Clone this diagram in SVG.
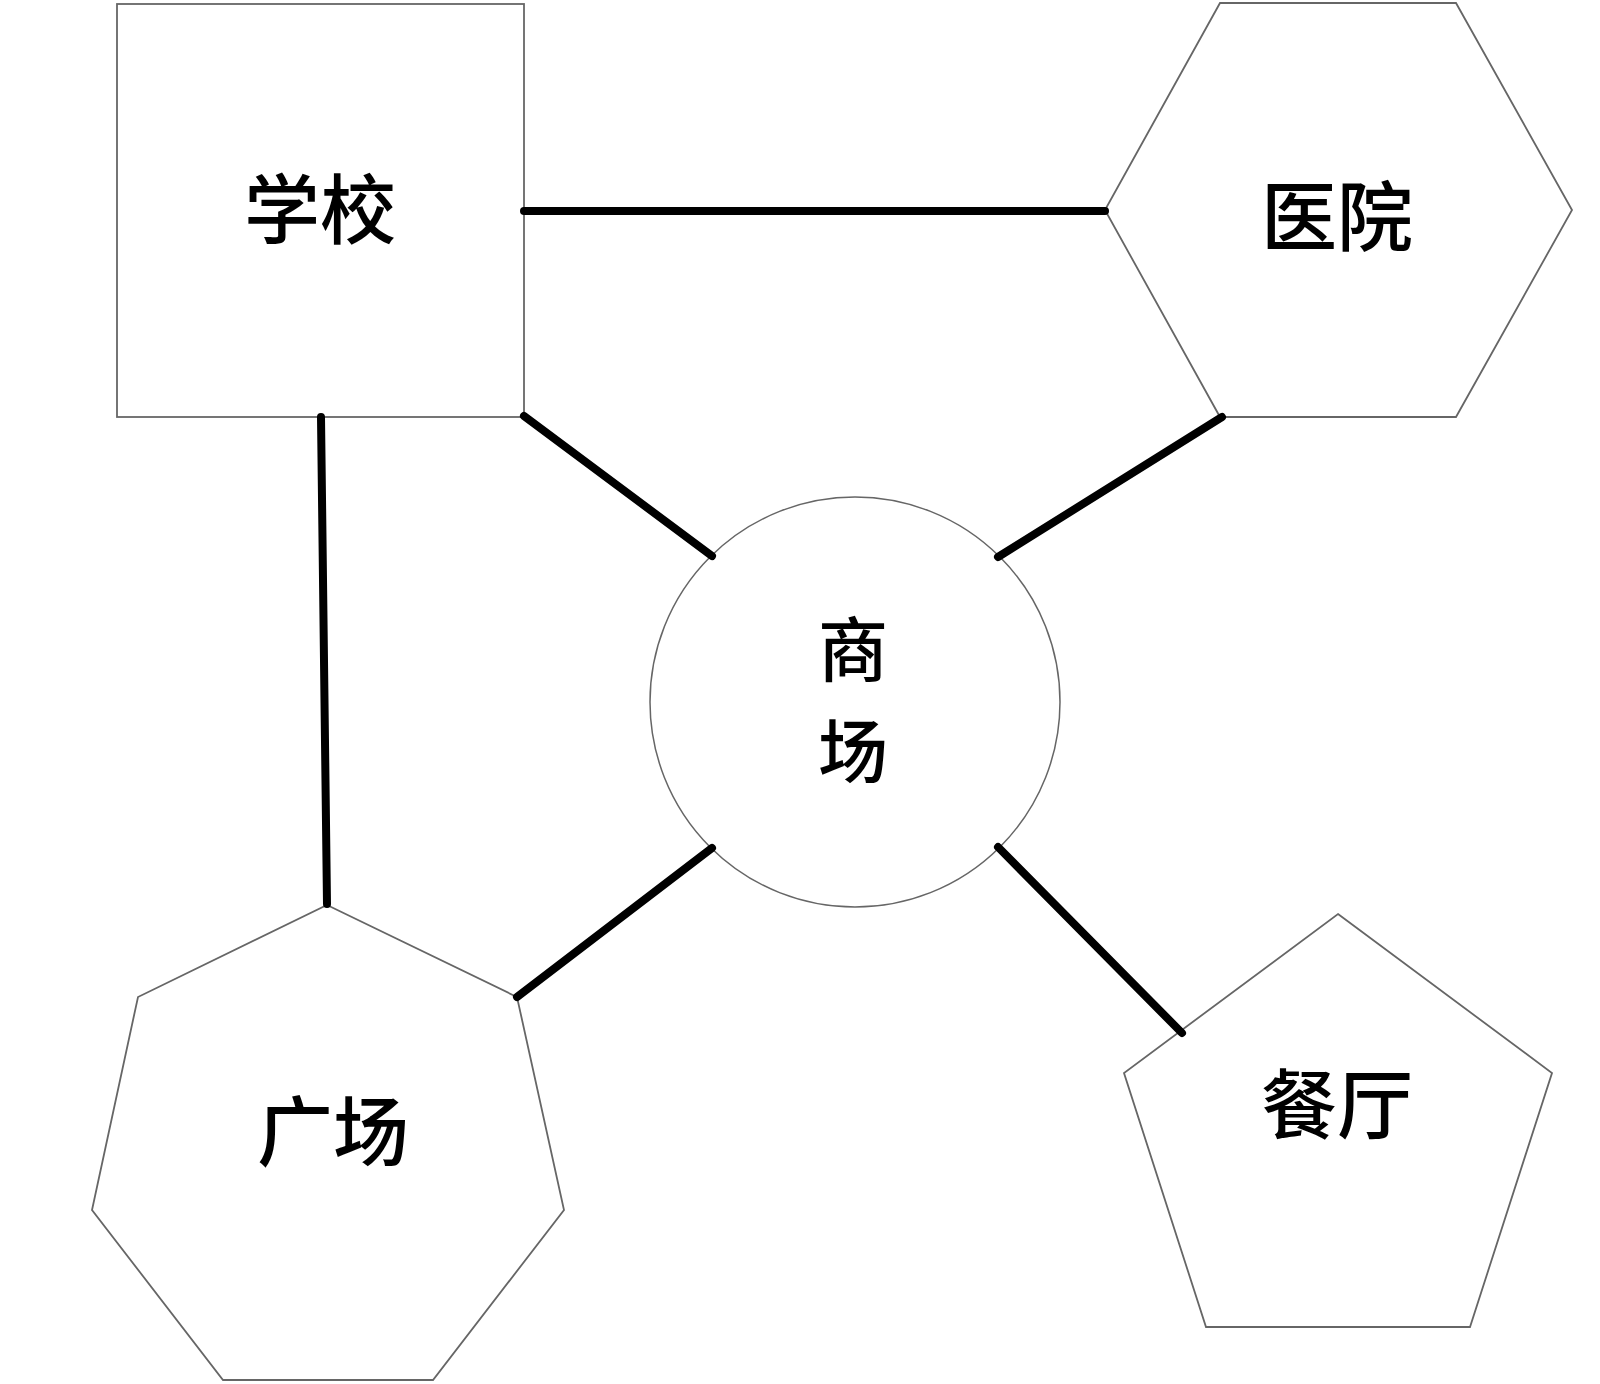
<svg xmlns="http://www.w3.org/2000/svg" width="1600" height="1384" viewBox="0 0 1600 1384">
<style>
.shape{fill:#fff;stroke:#666;stroke-width:1.8;stroke-linejoin:miter}
.lbl{font-family:"Noto Sans CJK SC","Noto Sans CJK JP",sans-serif;font-size:76px;font-weight:500;fill:#000;text-anchor:middle;dominant-baseline:central}
.conn line{stroke:#000;stroke-width:8;stroke-linecap:round}
</style>
<rect width="1600" height="1384" fill="#fff"/>
<g id="school">
<rect class="shape" x="117" y="4" width="407" height="413"/>
<text class="lbl" x="320" y="205">学校</text>
</g>
<g id="hospital">
<polygon class="shape" points="1220,3 1456,3 1572,210 1456,417 1220,417 1105,210"/>
<text class="lbl" x="1337" y="212">医院</text>
</g>
<g id="mall">
<circle class="shape" cx="855" cy="702" r="205" style="stroke-width:1.5"/>
<text class="lbl" x="853" y="645" style="font-size:70px">商</text>
<text class="lbl" x="853" y="747" style="font-size:70px">场</text>
</g>
<g id="square">
<polygon class="shape" points="327,905 517,997 564,1210 433,1380 223,1380 92,1210 138,997"/>
<text class="lbl" x="333" y="1127">广场</text>
</g>
<g id="restaurant">
<polygon class="shape" points="1338,914 1552,1073 1470,1327 1206,1327 1124,1073"/>
<text class="lbl" x="1337" y="1100">餐厅</text>
</g>
<g id="connectors" class="conn">
<line x1="524" y1="211" x2="1105" y2="211"/>
<line x1="524" y1="416" x2="712" y2="556"/>
<line x1="1222" y1="417" x2="998" y2="557"/>
<line x1="321" y1="417" x2="327" y2="904"/>
<line x1="517" y1="997" x2="712" y2="848"/>
<line x1="998" y1="847" x2="1182" y2="1033"/>
</g>
</svg>
